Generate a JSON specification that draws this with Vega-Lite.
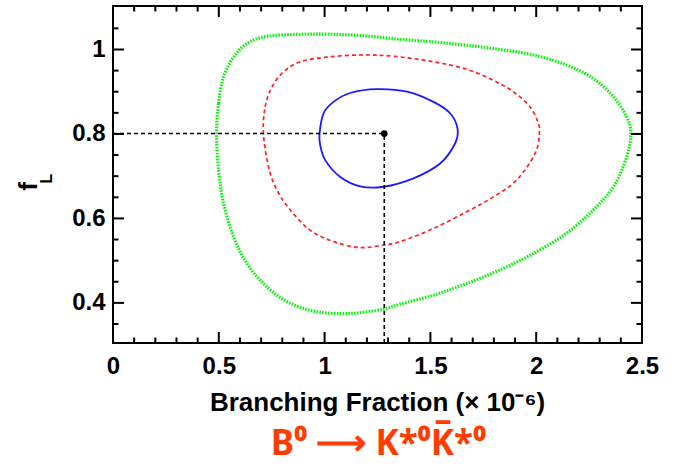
{
  "$schema": "https://vega.github.io/schema/vega-lite/v6.json",
  "width": 529,
  "height": 337,
  "autosize": {"type": "none"},
  "padding": {"left": 113, "top": 6, "right": 31, "bottom": 122},
  "background": "white",
  "config": {
    "view": {"stroke": "black", "strokeWidth": 2},
    "axis": {
      "grid": false,
      "domain": false,
      "ticks": false,
      "labelFont": "Liberation Sans",
      "labelFontWeight": "bold",
      "labelFontSize": 24,
      "labelColor": "black",
      "labelFlush": false,
      "titleFont": "Liberation Sans",
      "titleFontWeight": "bold",
      "titleColor": "black"
    }
  },
  "datasets": {
    "contours": [
      {"k": "g", "i": 0, "x": 0.489, "y": 0.801},
      {"k": "g", "i": 1, "x": 0.499, "y": 0.872},
      {"k": "g", "i": 2, "x": 0.522, "y": 0.935},
      {"k": "g", "i": 3, "x": 0.570, "y": 0.982},
      {"k": "g", "i": 4, "x": 0.633, "y": 1.014},
      {"k": "g", "i": 5, "x": 0.727, "y": 1.031},
      {"k": "g", "i": 6, "x": 0.885, "y": 1.036},
      {"k": "g", "i": 7, "x": 1.042, "y": 1.036},
      {"k": "g", "i": 8, "x": 1.200, "y": 1.032},
      {"k": "g", "i": 9, "x": 1.357, "y": 1.024},
      {"k": "g", "i": 10, "x": 1.514, "y": 1.018},
      {"k": "g", "i": 11, "x": 1.672, "y": 1.010},
      {"k": "g", "i": 12, "x": 1.829, "y": 1.000},
      {"k": "g", "i": 13, "x": 1.987, "y": 0.987},
      {"k": "g", "i": 14, "x": 2.144, "y": 0.963},
      {"k": "g", "i": 15, "x": 2.270, "y": 0.931},
      {"k": "g", "i": 16, "x": 2.365, "y": 0.888},
      {"k": "g", "i": 17, "x": 2.428, "y": 0.840},
      {"k": "g", "i": 18, "x": 2.447, "y": 0.801},
      {"k": "g", "i": 19, "x": 2.428, "y": 0.746},
      {"k": "g", "i": 20, "x": 2.365, "y": 0.675},
      {"k": "g", "i": 21, "x": 2.270, "y": 0.620},
      {"k": "g", "i": 22, "x": 2.144, "y": 0.565},
      {"k": "g", "i": 23, "x": 1.987, "y": 0.517},
      {"k": "g", "i": 24, "x": 1.829, "y": 0.478},
      {"k": "g", "i": 25, "x": 1.672, "y": 0.446},
      {"k": "g", "i": 26, "x": 1.514, "y": 0.418},
      {"k": "g", "i": 27, "x": 1.357, "y": 0.397},
      {"k": "g", "i": 28, "x": 1.278, "y": 0.385},
      {"k": "g", "i": 29, "x": 1.121, "y": 0.375},
      {"k": "g", "i": 30, "x": 0.964, "y": 0.379},
      {"k": "g", "i": 31, "x": 0.838, "y": 0.399},
      {"k": "g", "i": 32, "x": 0.727, "y": 0.438},
      {"k": "g", "i": 33, "x": 0.633, "y": 0.493},
      {"k": "g", "i": 34, "x": 0.570, "y": 0.556},
      {"k": "g", "i": 35, "x": 0.522, "y": 0.636},
      {"k": "g", "i": 36, "x": 0.499, "y": 0.714},
      {"k": "r", "i": 0, "x": 0.711, "y": 0.801},
      {"k": "r", "i": 1, "x": 0.719, "y": 0.864},
      {"k": "r", "i": 2, "x": 0.751, "y": 0.911},
      {"k": "r", "i": 3, "x": 0.806, "y": 0.947},
      {"k": "r", "i": 4, "x": 0.885, "y": 0.971},
      {"k": "r", "i": 5, "x": 1.011, "y": 0.982},
      {"k": "r", "i": 6, "x": 1.168, "y": 0.987},
      {"k": "r", "i": 7, "x": 1.325, "y": 0.984},
      {"k": "r", "i": 8, "x": 1.514, "y": 0.971},
      {"k": "r", "i": 9, "x": 1.672, "y": 0.953},
      {"k": "r", "i": 10, "x": 1.798, "y": 0.927},
      {"k": "r", "i": 11, "x": 1.892, "y": 0.900},
      {"k": "r", "i": 12, "x": 1.971, "y": 0.864},
      {"k": "r", "i": 13, "x": 2.010, "y": 0.825},
      {"k": "r", "i": 14, "x": 2.015, "y": 0.801},
      {"k": "r", "i": 15, "x": 1.995, "y": 0.754},
      {"k": "r", "i": 16, "x": 1.908, "y": 0.691},
      {"k": "r", "i": 17, "x": 1.798, "y": 0.651},
      {"k": "r", "i": 18, "x": 1.672, "y": 0.616},
      {"k": "r", "i": 19, "x": 1.514, "y": 0.576},
      {"k": "r", "i": 20, "x": 1.357, "y": 0.545},
      {"k": "r", "i": 21, "x": 1.278, "y": 0.537},
      {"k": "r", "i": 22, "x": 1.168, "y": 0.531},
      {"k": "r", "i": 23, "x": 1.042, "y": 0.545},
      {"k": "r", "i": 24, "x": 0.932, "y": 0.572},
      {"k": "r", "i": 25, "x": 0.838, "y": 0.620},
      {"k": "r", "i": 26, "x": 0.775, "y": 0.667},
      {"k": "r", "i": 27, "x": 0.735, "y": 0.722},
      {"k": "b", "i": 0, "x": 0.976, "y": 0.801},
      {"k": "b", "i": 1, "x": 0.995, "y": 0.849},
      {"k": "b", "i": 2, "x": 1.042, "y": 0.876},
      {"k": "b", "i": 3, "x": 1.121, "y": 0.897},
      {"k": "b", "i": 4, "x": 1.247, "y": 0.906},
      {"k": "b", "i": 5, "x": 1.389, "y": 0.900},
      {"k": "b", "i": 6, "x": 1.514, "y": 0.876},
      {"k": "b", "i": 7, "x": 1.593, "y": 0.849},
      {"k": "b", "i": 8, "x": 1.628, "y": 0.813},
      {"k": "b", "i": 9, "x": 1.617, "y": 0.778},
      {"k": "b", "i": 10, "x": 1.546, "y": 0.730},
      {"k": "b", "i": 11, "x": 1.420, "y": 0.695},
      {"k": "b", "i": 12, "x": 1.278, "y": 0.675},
      {"k": "b", "i": 13, "x": 1.168, "y": 0.676},
      {"k": "b", "i": 14, "x": 1.074, "y": 0.698},
      {"k": "b", "i": 15, "x": 1.003, "y": 0.738},
      {"k": "b", "i": 16, "x": 0.979, "y": 0.774}
    ],
    "best": [{"bx": 1.282, "by": 0.801, "xlow": 0, "ylow": 0.305}],
    "xticks": [
      {"t": 0, "kind": "major"}, {"t": 0.1, "kind": "minor"}, {"t": 0.2, "kind": "minor"}, {"t": 0.3, "kind": "minor"}, {"t": 0.4, "kind": "minor"},
      {"t": 0.5, "kind": "major"}, {"t": 0.6, "kind": "minor"}, {"t": 0.7, "kind": "minor"}, {"t": 0.8, "kind": "minor"}, {"t": 0.9, "kind": "minor"},
      {"t": 1.0, "kind": "major"}, {"t": 1.1, "kind": "minor"}, {"t": 1.2, "kind": "minor"}, {"t": 1.3, "kind": "minor"}, {"t": 1.4, "kind": "minor"},
      {"t": 1.5, "kind": "major"}, {"t": 1.6, "kind": "minor"}, {"t": 1.7, "kind": "minor"}, {"t": 1.8, "kind": "minor"}, {"t": 1.9, "kind": "minor"},
      {"t": 2.0, "kind": "major"}, {"t": 2.1, "kind": "minor"}, {"t": 2.2, "kind": "minor"}, {"t": 2.3, "kind": "minor"}, {"t": 2.4, "kind": "minor"},
      {"t": 2.5, "kind": "major"}
    ],
    "yticks": [
      {"t": 0.35, "kind": "minor"}, {"t": 0.4, "kind": "major"}, {"t": 0.45, "kind": "minor"}, {"t": 0.5, "kind": "minor"}, {"t": 0.55, "kind": "minor"},
      {"t": 0.6, "kind": "major"}, {"t": 0.65, "kind": "minor"}, {"t": 0.7, "kind": "minor"}, {"t": 0.75, "kind": "minor"},
      {"t": 0.8, "kind": "major"}, {"t": 0.85, "kind": "minor"}, {"t": 0.9, "kind": "minor"}, {"t": 0.95, "kind": "minor"},
      {"t": 1.0, "kind": "major"}, {"t": 1.05, "kind": "minor"}
    ]
  },
  "resolve": {"axis": {"x": "independent", "y": "independent"}},
  "layer": [
    {
      "data": {"name": "contours"},
      "transform": [{"filter": "datum.k == 'g'"}],
      "mark": {"type": "line", "interpolate": "cardinal-closed", "color": "#11ee11", "strokeWidth": 3.2, "strokeDash": [1.6, 1.3]},
      "encoding": {
        "x": {"field": "x", "type": "quantitative", "scale": {"domain": [0, 2.5], "nice": false, "zero": false},
          "axis": {"orient": "bottom", "values": [0, 0.5, 1, 1.5, 2, 2.5], "format": "~g", "labelPadding": 11,
            "title": "Branching Fraction (× 10⁻⁶)", "titleFontSize": 26, "titleX": 264, "titleY": 67, "titleAlign": "center", "titleBaseline": "alphabetic"}},
        "y": {"field": "y", "type": "quantitative", "scale": {"domain": [0.305, 1.103], "nice": false, "zero": false},
          "axis": {"orient": "left", "values": [0.4, 0.6, 0.8, 1], "format": "~g", "labelPadding": 8,
            "title": "f", "titleFontSize": 26, "titleX": -85, "titleY": 180, "titleAlign": "center", "titleBaseline": "middle", "titleAngle": -90}},
        "order": {"field": "i", "type": "quantitative"}
      }
    },
    {
      "data": {"name": "contours"},
      "transform": [{"filter": "datum.k == 'r'"}],
      "mark": {"type": "line", "interpolate": "cardinal-closed", "color": "#ff2222", "strokeWidth": 1.7, "strokeDash": [4, 3]},
      "encoding": {
        "x": {"field": "x", "type": "quantitative",
          "axis": {"orient": "bottom", "values": [0.5], "labels": false,
            "title": "B⁰ ⟶ K*⁰K̅*⁰", "titleFont": "Noto Sans", "titleFontWeight": "bold", "titleColor": "#ff3c00", "titleFontSize": 35, "titleX": 265, "titleY": 111, "titleAlign": "center", "titleBaseline": "alphabetic"}},
        "y": {"field": "y", "type": "quantitative",
          "axis": {"orient": "left", "values": [0.8], "labels": false,
            "title": "L", "titleFontSize": 16, "titleX": -67, "titleY": 172, "titleAlign": "center", "titleBaseline": "middle", "titleAngle": -90}},
        "order": {"field": "i", "type": "quantitative"}
      }
    },
    {
      "data": {"name": "contours"},
      "transform": [{"filter": "datum.k == 'b'"}],
      "mark": {"type": "line", "interpolate": "cardinal-closed", "color": "#1a1aff", "strokeWidth": 1.8},
      "encoding": {
        "x": {"field": "x", "type": "quantitative", "axis": null},
        "y": {"field": "y", "type": "quantitative", "axis": null},
        "order": {"field": "i", "type": "quantitative"}
      }
    },
    {
      "data": {"name": "best"},
      "mark": {"type": "rule", "color": "black", "strokeWidth": 1.6, "strokeDash": [4, 3]},
      "encoding": {
        "x": {"field": "xlow", "type": "quantitative", "axis": null},
        "x2": {"field": "bx"},
        "y": {"field": "by", "type": "quantitative", "axis": null}
      }
    },
    {
      "data": {"name": "best"},
      "mark": {"type": "rule", "color": "black", "strokeWidth": 1.6, "strokeDash": [4, 3]},
      "encoding": {
        "x": {"field": "bx", "type": "quantitative", "axis": null},
        "y": {"field": "ylow", "type": "quantitative", "axis": null},
        "y2": {"field": "by"}
      }
    },
    {
      "data": {"name": "best"},
      "mark": {"type": "point", "filled": true, "color": "black", "size": 45, "opacity": 1},
      "encoding": {
        "x": {"field": "bx", "type": "quantitative", "axis": null},
        "y": {"field": "by", "type": "quantitative", "axis": null}
      }
    },
    {
      "data": {"name": "xticks"},
      "mark": {"type": "tick", "orient": "vertical", "clip": true, "thickness": 2, "color": "black", "opacity": 1},
      "encoding": {
        "x": {"field": "t", "type": "quantitative", "axis": null},
        "y": {"datum": 0.305, "type": "quantitative", "axis": null},
        "size": {"field": "kind", "type": "nominal", "scale": {"domain": ["major", "minor"], "range": [22, 11]}, "legend": null}
      }
    },
    {
      "data": {"name": "xticks"},
      "mark": {"type": "tick", "orient": "vertical", "clip": true, "thickness": 2, "color": "black", "opacity": 1},
      "encoding": {
        "x": {"field": "t", "type": "quantitative", "axis": null},
        "y": {"datum": 1.103, "type": "quantitative", "axis": null},
        "size": {"field": "kind", "type": "nominal", "scale": {"domain": ["major", "minor"], "range": [22, 11]}, "legend": null}
      }
    },
    {
      "data": {"name": "yticks"},
      "mark": {"type": "tick", "orient": "horizontal", "clip": true, "thickness": 2, "color": "black", "opacity": 1},
      "encoding": {
        "y": {"field": "t", "type": "quantitative", "axis": null},
        "x": {"datum": 0, "type": "quantitative", "axis": null},
        "size": {"field": "kind", "type": "nominal", "scale": {"domain": ["major", "minor"], "range": [30, 15]}, "legend": null}
      }
    },
    {
      "data": {"name": "yticks"},
      "mark": {"type": "tick", "orient": "horizontal", "clip": true, "thickness": 2, "color": "black", "opacity": 1},
      "encoding": {
        "y": {"field": "t", "type": "quantitative", "axis": null},
        "x": {"datum": 2.5, "type": "quantitative", "axis": null},
        "size": {"field": "kind", "type": "nominal", "scale": {"domain": ["major", "minor"], "range": [30, 15]}, "legend": null}
      }
    }
  ]
}
